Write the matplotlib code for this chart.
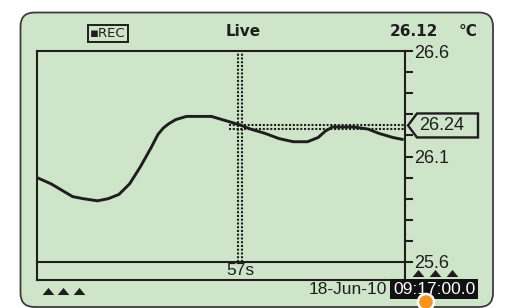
import matplotlib
matplotlib.use('Agg')
import matplotlib.pyplot as plt
from matplotlib.patches import FancyBboxPatch, Rectangle, Polygon, Circle
from matplotlib.transforms import offset_copy

# ---- data ----
time_s = [0, 4, 7, 10, 13, 17, 20, 23, 26, 29, 32, 34, 35.5, 37, 39, 42, 46, 49, 53, 57, 60,
          64, 68, 72, 76, 79, 81, 83, 86, 89, 93, 96, 100, 103]
temp_c = [26.00, 25.97, 25.94, 25.91, 25.90, 25.89, 25.90, 25.92, 25.97, 26.05, 26.14, 26.205,
          26.235, 26.255, 26.275, 26.29, 26.29, 26.29, 26.27, 26.25, 26.23, 26.21, 26.185, 26.17,
          26.17, 26.19, 26.22, 26.24, 26.24, 26.24, 26.23, 26.21, 26.19, 26.18]
y_ticks = [25.6, 25.7, 25.8, 25.9, 26.0, 26.1, 26.2, 26.3, 26.4, 26.5, 26.6]
y_tick_labels = ["25.6", "", "", "", "", "26.1", "", "", "", "", "26.6"]
cursor_time = 57
cursor_label = "57s"
cursor_value = 26.24
cursor_value_label = "26.24"
hline_start = 54
current_reading = "26.12"
unit = "°C"
mode_label = "Live"
rec_label = "▪REC"
date_label = "18-Jun-10"
time_label = "09:17:00.0"
t_max = 103.4

W, H = 517, 308
GREEN = "#cfe5c9"
INK = "#1e1e1e"
LCD = "Liberation Sans"

fig = plt.figure(figsize=(W / 100, H / 100), dpi=100)
fig.patch.set_facecolor("white")

# background overlay in pixel coordinates (y downward)
bg = fig.add_axes([0, 0, 1, 1], zorder=0)
bg.set_xlim(0, W); bg.set_ylim(H, 0); bg.axis("off")
panel = FancyBboxPatch((20.5, 12.5), 472.5, 294.5, boxstyle="round,pad=0,rounding_size=14",
                       facecolor=GREEN, edgecolor="#3c3c3c", linewidth=1.3)
bg.add_patch(panel)

# main plot axes
x0, x1, yt, yb = 37, 405, 51, 262
ax = fig.add_axes([x0 / W, (H - yb) / H, (x1 - x0) / W, (yb - yt) / H], zorder=1)
ax.patch.set_alpha(0)
ax.set_xlim(0, t_max)
ax.set_ylim(25.6, 26.6)
for s in ax.spines.values():
    s.set_linewidth(1.5)
    s.set_color(INK)
ax.set_xticks([])
ax.yaxis.tick_right()
ax.set_yticks(y_ticks)
ax.set_yticklabels(y_tick_labels, fontfamily=LCD, fontsize=13, color=INK)
ax.tick_params(axis="y", direction="out", length=5.5, width=1.5, color=INK, pad=1)

ax.plot(time_s, temp_c, color=INK, linewidth=2.1, solid_capstyle="butt",
        solid_joinstyle="round", zorder=3)

# dotted crosshair (double columns of dots)
for dx in (-1.8, 1.8):
    tr = offset_copy(ax.transData, fig=fig, x=dx, y=0, units="dots")
    ax.plot([cursor_time, cursor_time], [25.6, 26.6], transform=tr, color=INK,
            linewidth=1.5, linestyle=(0, (1, 0.8)), zorder=2)
for dy in (-2.3, 2.3):
    tr = offset_copy(ax.transData, fig=fig, x=0, y=dy, units="dots")
    ax.plot([hline_start, t_max], [cursor_value, cursor_value], transform=tr, color=INK,
            linewidth=1.5, linestyle=(0, (1, 0.8)), zorder=2)

# foreground overlay
fg = fig.add_axes([0, 0, 1, 1], zorder=2)
fg.set_xlim(0, W); fg.set_ylim(H, 0); fg.axis("off")
fg.patch.set_alpha(0)

# strip below plot
fg.plot([x0, x0], [yb, 280], color=INK, lw=1.5)
fg.plot([x1, x1], [yb, 280], color=INK, lw=1.5)
fg.plot([x0, x1], [280, 280], color=INK, lw=1.5)
cx_disp = ax.transData.transform((cursor_time, cursor_value))
cx = cx_disp[0]
fg.text(cx, 270.5, cursor_label, ha="center", va="center", fontfamily=LCD, fontsize=12.5, color=INK)

# pointer label for cursor value
py = H - cx_disp[1] - 1.5
ptr = Polygon([(408, py), (417, py - 12), (478, py - 12), (478, py + 12), (417, py + 12)],
              closed=True, facecolor=GREEN, edgecolor=INK, linewidth=1.7, zorder=5)
fg.add_patch(ptr)
fg.text(419, py + 0.5, cursor_value_label, ha="left", va="center", fontfamily=LCD,
        fontsize=13, color=INK, zorder=6)

# header
fg.add_patch(Rectangle((88, 25), 40, 17, facecolor="none", edgecolor=INK, lw=1.4))
fg.text(108, 33.8, rec_label, ha="center", va="center", fontfamily="DejaVu Sans",
        fontsize=9.5, color=INK)
fg.text(243.5, 31.5, mode_label, ha="center", va="center", fontfamily="DejaVu Sans",
        fontweight="bold", fontsize=11, color=INK)
fg.text(390, 32, current_reading, ha="left", va="center", fontfamily="DejaVu Sans",
        fontweight="bold", fontsize=11, color=INK)
fg.text(477, 32, unit, ha="right", va="center", fontfamily="DejaVu Sans",
        fontweight="bold", fontsize=11, color=INK)

# footer
fg.text(387, 289.5, date_label, ha="right", va="center", fontfamily=LCD, fontsize=12.5, color=INK)
fg.add_patch(Rectangle((390, 278.5), 88, 20.5, facecolor="#111111", edgecolor="none", zorder=4))
fg.text(434, 289.5, time_label, ha="center", va="center", fontfamily=LCD, fontsize=12.5,
        color="white", zorder=5)

tri = [(-1, -0.6), (1, -0.6), (0, 0.6)]
fg.plot([47.5, 63, 79], [291, 291, 291], linestyle="none", marker=tri, markersize=8.5,
        color=INK, markeredgewidth=0)
fg.plot([417.5, 435, 451.5], [272.5, 272.5, 272.5], linestyle="none", marker=tri,
        markersize=8.5, color=INK, markeredgewidth=0)

fg.add_patch(Circle((426, 302), 8, facecolor="#f7941d", edgecolor="white", lw=1.8, zorder=6,
                    clip_on=False))

fig.savefig("out.png", dpi=100, facecolor="white")
